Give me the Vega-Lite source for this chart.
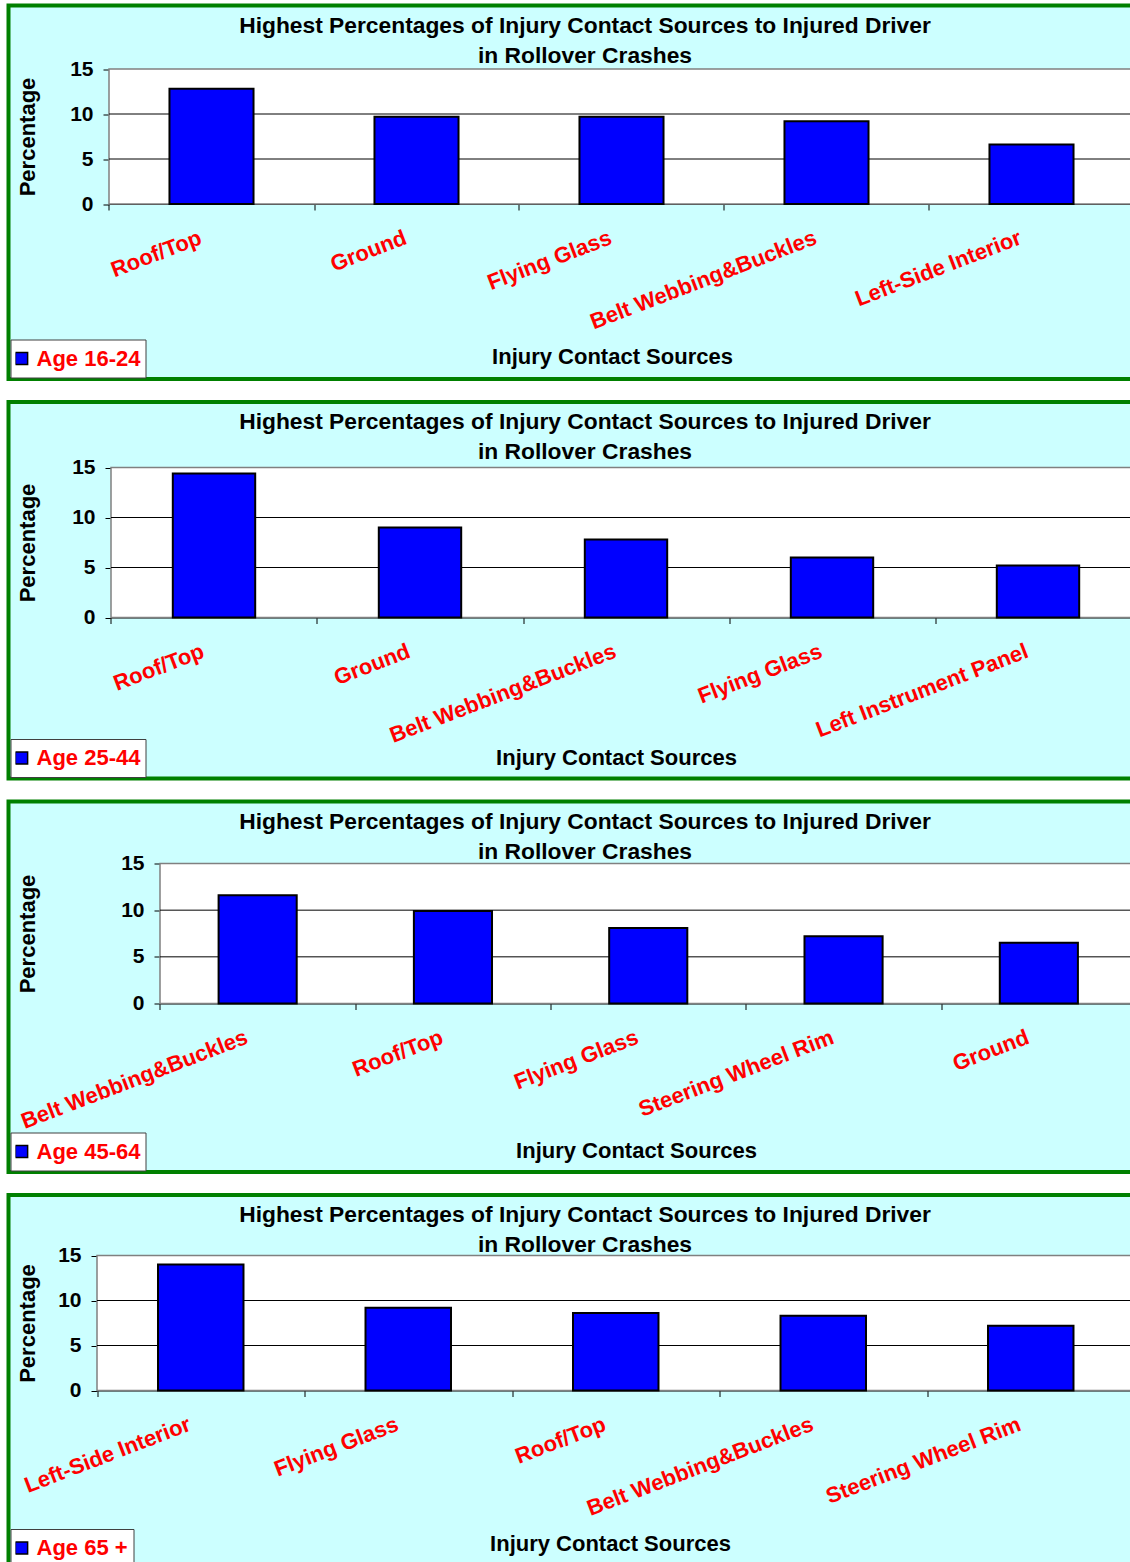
{
  "$schema": "https://vega.github.io/schema/vega-lite/v6.json",
  "background": "white",
  "padding": {"left": 6.5, "top": 3.5, "right": 0, "bottom": 0},
  "spacing": 18.5,
  "datasets": {
    "age1624": [
      {"source": "Roof/Top", "pct": 12.8, "age": "Age 16-24"},
      {"source": "Ground", "pct": 9.7, "age": "Age 16-24"},
      {"source": "Flying Glass", "pct": 9.7, "age": "Age 16-24"},
      {"source": "Belt Webbing&Buckles", "pct": 9.2, "age": "Age 16-24"},
      {"source": "Left-Side Interior", "pct": 6.6, "age": "Age 16-24"}
    ],
    "age2544": [
      {"source": "Roof/Top", "pct": 14.4, "age": "Age 25-44"},
      {"source": "Ground", "pct": 9.0, "age": "Age 25-44"},
      {"source": "Belt Webbing&Buckles", "pct": 7.8, "age": "Age 25-44"},
      {"source": "Flying Glass", "pct": 6.0, "age": "Age 25-44"},
      {"source": "Left Instrument Panel", "pct": 5.2, "age": "Age 25-44"}
    ],
    "age4564": [
      {"source": "Belt Webbing&Buckles", "pct": 11.6, "age": "Age 45-64"},
      {"source": "Roof/Top", "pct": 9.9, "age": "Age 45-64"},
      {"source": "Flying Glass", "pct": 8.1, "age": "Age 45-64"},
      {"source": "Steering Wheel Rim", "pct": 7.2, "age": "Age 45-64"},
      {"source": "Ground", "pct": 6.5, "age": "Age 45-64"}
    ],
    "age65": [
      {"source": "Left-Side Interior", "pct": 14.0, "age": "Age 65 +"},
      {"source": "Flying Glass", "pct": 9.2, "age": "Age 65 +"},
      {"source": "Roof/Top", "pct": 8.6, "age": "Age 65 +"},
      {"source": "Belt Webbing&Buckles", "pct": 8.3, "age": "Age 65 +"},
      {"source": "Steering Wheel Rim", "pct": 7.2, "age": "Age 65 +"}
    ]
  },
  "config": {
    "font": "Liberation Sans",
    "view": {"fill": "#CCFFFF", "stroke": "#008000", "strokeWidth": 4},
    "title": {"fontSize": 22.8, "fontWeight": "bold", "color": "black", "frame": "group", "anchor": "middle", "baseline": "top", "offset": -62, "lineHeight": 30},
    "axis": {"domainColor": "black", "tickColor": "black", "tickSize": 6, "labelFontWeight": "bold", "labelFontSize": 21, "labelColor": "black", "titleFontWeight": "bold", "titleFontSize": 22, "titleColor": "black", "zindex": 1, "grid": false},
    "axisX": {"labelAngle": -21, "labelAlign": "right", "labelBaseline": "top", "labelColor": "#FF0000", "labelFontSize": 22, "labelPadding": 17, "labelLimit": 400, "labelOverlap": false, "titleBaseline": "middle", "titleAlign": "center"},
    "axisY": {"labelPadding": 10, "titleAngle": -90, "titleBaseline": "middle", "titleAlign": "center"},
    "legend": {"orient": "bottom-left", "offset": 2, "fillColor": "white", "strokeColor": "#404040", "padding": 5, "clipHeight": 28, "symbolType": "square", "symbolSize": 150, "symbolOffset": -5, "symbolStrokeColor": "black", "symbolStrokeWidth": 1.5, "labelColor": "#FF0000", "labelFontSize": 22, "labelFontWeight": "bold", "labelOffset": 4}
  },
  "resolve": {"scale": {"color": "independent"}, "legend": {"color": "independent"}},
  "vconcat": [
    {
      "width": 1153,
      "height": 373.5,
      "title": {"text": ["Highest Percentages of Injury Contact Sources to Injured Driver", "in Rollover Crashes"]},
      "resolve": {"scale": {"x": "independent", "y": "independent"}},
      "layer": [
        {
          "data": {"values": [{}]},
          "layer": [
            {
              "mark": {"type": "rect", "fill": "white", "stroke": "#808080", "strokeWidth": 1.5},
              "encoding": {
                "x": {"datum": 0, "type": "quantitative", "scale": {"domain": [0, 1], "range": [100.5, 1125.5]}, "axis": null},
                "x2": {"datum": 1},
                "y": {"datum": 0, "type": "quantitative", "scale": {"domain": [0, 15], "range": [198.5, 63.5], "nice": false}, "axis": null},
                "y2": {"datum": 15}
              }
            },
            {
              "mark": {"type": "rule", "color": "black", "strokeWidth": 1},
              "encoding": {"x": {"datum": 0, "type": "quantitative"}, "x2": {"datum": 1}, "y": {"datum": 5, "type": "quantitative"}}
            },
            {
              "mark": {"type": "rule", "color": "black", "strokeWidth": 1},
              "encoding": {"x": {"datum": 0, "type": "quantitative"}, "x2": {"datum": 1}, "y": {"datum": 10, "type": "quantitative"}}
            }
          ]
        },
        {
          "data": {"name": "age1624"},
          "mark": {"type": "bar", "stroke": "black", "strokeWidth": 2},
          "encoding": {
            "x": {"field": "source", "type": "nominal", "sort": null,
                  "scale": {"range": [100.5, 1125.5], "paddingInner": 0.59, "paddingOuter": 0.295},
                  "axis": {"orient": "bottom", "offset": -175, "tickOffset": -102.5, "labelOffset": 87.5, "title": "Injury Contact Sources", "titleX": 603.5, "titleY": 152}},
            "y": {"field": "pct", "type": "quantitative",
                  "scale": {"domain": [0, 15], "range": [198.5, 63.5], "nice": false},
                  "axis": {"orient": "left", "offset": -100.5, "values": [0, 5, 10, 15], "title": "Percentage", "titleX": -82}},
            "color": {"field": "age", "type": "nominal", "scale": {"range": ["#0000FF"]}, "legend": {"title": null}}
          }
        }
      ]
    },
    {
      "width": 1153,
      "height": 376.5,
      "title": {"text": ["Highest Percentages of Injury Contact Sources to Injured Driver", "in Rollover Crashes"]},
      "resolve": {"scale": {"x": "independent", "y": "independent"}},
      "layer": [
        {
          "data": {"values": [{}]},
          "layer": [
            {
              "mark": {"type": "rect", "fill": "white", "stroke": "#808080", "strokeWidth": 1.5},
              "encoding": {
                "x": {"datum": 0, "type": "quantitative", "scale": {"domain": [0, 1], "range": [102.5, 1132.5]}, "axis": null},
                "x2": {"datum": 1},
                "y": {"datum": 0, "type": "quantitative", "scale": {"domain": [0, 15], "range": [215.5, 65.5], "nice": false}, "axis": null},
                "y2": {"datum": 15}
              }
            },
            {
              "mark": {"type": "rule", "color": "black", "strokeWidth": 1},
              "encoding": {"x": {"datum": 0, "type": "quantitative"}, "x2": {"datum": 1}, "y": {"datum": 5, "type": "quantitative"}}
            },
            {
              "mark": {"type": "rule", "color": "black", "strokeWidth": 1},
              "encoding": {"x": {"datum": 0, "type": "quantitative"}, "x2": {"datum": 1}, "y": {"datum": 10, "type": "quantitative"}}
            }
          ]
        },
        {
          "data": {"name": "age2544"},
          "mark": {"type": "bar", "stroke": "black", "strokeWidth": 2},
          "encoding": {
            "x": {"field": "source", "type": "nominal", "sort": null,
                  "scale": {"range": [102.5, 1132.5], "paddingInner": 0.6, "paddingOuter": 0.3},
                  "axis": {"orient": "bottom", "offset": -161, "tickOffset": -103, "labelOffset": 88, "title": "Injury Contact Sources", "titleX": 607.5, "titleY": 140}},
            "y": {"field": "pct", "type": "quantitative",
                  "scale": {"domain": [0, 15], "range": [215.5, 65.5], "nice": false},
                  "axis": {"orient": "left", "offset": -102.5, "values": [0, 5, 10, 15], "title": "Percentage", "titleX": -84}},
            "color": {"field": "age", "type": "nominal", "scale": {"range": ["#0000FF"]}, "legend": {"title": null}}
          }
        }
      ]
    },
    {
      "width": 1153,
      "height": 370.5,
      "title": {"text": ["Highest Percentages of Injury Contact Sources to Injured Driver", "in Rollover Crashes"]},
      "resolve": {"scale": {"x": "independent", "y": "independent"}},
      "layer": [
        {
          "data": {"values": [{}]},
          "layer": [
            {
              "mark": {"type": "rect", "fill": "white", "stroke": "#808080", "strokeWidth": 1.5},
              "encoding": {
                "x": {"datum": 0, "type": "quantitative", "scale": {"domain": [0, 1], "range": [151.5, 1128]}, "axis": null},
                "x2": {"datum": 1},
                "y": {"datum": 0, "type": "quantitative", "scale": {"domain": [0, 15], "range": [202, 62], "nice": false}, "axis": null},
                "y2": {"datum": 15}
              }
            },
            {
              "mark": {"type": "rule", "color": "black", "strokeWidth": 1},
              "encoding": {"x": {"datum": 0, "type": "quantitative"}, "x2": {"datum": 1}, "y": {"datum": 5, "type": "quantitative"}}
            },
            {
              "mark": {"type": "rule", "color": "black", "strokeWidth": 1},
              "encoding": {"x": {"datum": 0, "type": "quantitative"}, "x2": {"datum": 1}, "y": {"datum": 10, "type": "quantitative"}}
            }
          ]
        },
        {
          "data": {"name": "age4564"},
          "mark": {"type": "bar", "stroke": "black", "strokeWidth": 2},
          "encoding": {
            "x": {"field": "source", "type": "nominal", "sort": null,
                  "scale": {"range": [151.5, 1128], "paddingInner": 0.6, "paddingOuter": 0.3},
                  "axis": {"orient": "bottom", "offset": -168.5, "tickOffset": -97.65, "labelOffset": 82.65, "title": "Injury Contact Sources", "titleX": 627.5, "titleY": 147}},
            "y": {"field": "pct", "type": "quantitative",
                  "scale": {"domain": [0, 15], "range": [202, 62], "nice": false},
                  "axis": {"orient": "left", "offset": -151.5, "values": [0, 5, 10, 15], "title": "Percentage", "titleX": -133}},
            "color": {"field": "age", "type": "nominal", "scale": {"range": ["#0000FF"]}, "legend": {"title": null}}
          }
        }
      ]
    },
    {
      "width": 1153,
      "height": 373.5,
      "title": {"text": ["Highest Percentages of Injury Contact Sources to Injured Driver", "in Rollover Crashes"]},
      "resolve": {"scale": {"x": "independent", "y": "independent"}},
      "layer": [
        {
          "data": {"values": [{}]},
          "layer": [
            {
              "mark": {"type": "rect", "fill": "white", "stroke": "#808080", "strokeWidth": 1.5},
              "encoding": {
                "x": {"datum": 0, "type": "quantitative", "scale": {"domain": [0, 1], "range": [88.5, 1126]}, "axis": null},
                "x2": {"datum": 1},
                "y": {"datum": 0, "type": "quantitative", "scale": {"domain": [0, 15], "range": [195.5, 60.5], "nice": false}, "axis": null},
                "y2": {"datum": 15}
              }
            },
            {
              "mark": {"type": "rule", "color": "black", "strokeWidth": 1},
              "encoding": {"x": {"datum": 0, "type": "quantitative"}, "x2": {"datum": 1}, "y": {"datum": 5, "type": "quantitative"}}
            },
            {
              "mark": {"type": "rule", "color": "black", "strokeWidth": 1},
              "encoding": {"x": {"datum": 0, "type": "quantitative"}, "x2": {"datum": 1}, "y": {"datum": 10, "type": "quantitative"}}
            }
          ]
        },
        {
          "data": {"name": "age65"},
          "mark": {"type": "bar", "stroke": "black", "strokeWidth": 2},
          "encoding": {
            "x": {"field": "source", "type": "nominal", "sort": null,
                  "scale": {"range": [88.5, 1126], "paddingInner": 0.588, "paddingOuter": 0.294},
                  "axis": {"orient": "bottom", "offset": -178, "tickOffset": -103.75, "labelOffset": 88.75, "title": "Injury Contact Sources", "titleX": 601.5, "titleY": 153}},
            "y": {"field": "pct", "type": "quantitative",
                  "scale": {"domain": [0, 15], "range": [195.5, 60.5], "nice": false},
                  "axis": {"orient": "left", "offset": -88.5, "values": [0, 5, 10, 15], "title": "Percentage", "titleX": -70}},
            "color": {"field": "age", "type": "nominal", "scale": {"range": ["#0000FF"]}, "legend": {"title": null}}
          }
        }
      ]
    }
  ]
}
